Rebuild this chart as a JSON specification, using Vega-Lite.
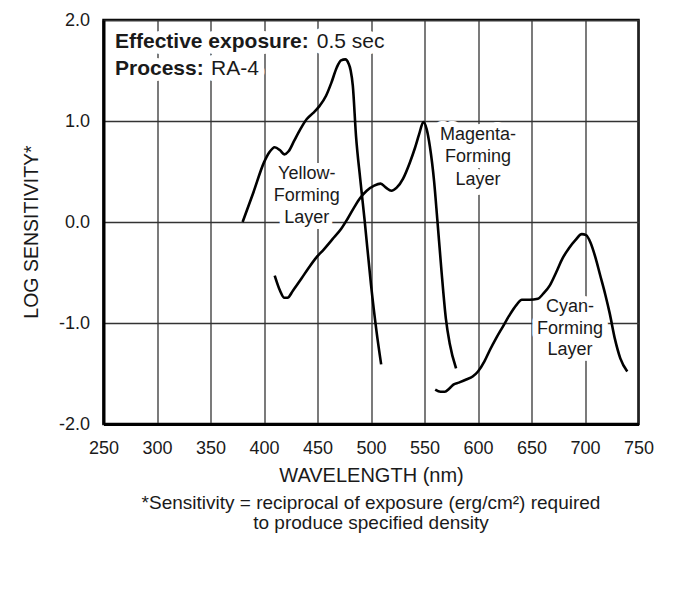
{
  "$schema": "https://vega.github.io/schema/vega-lite/v6.json",
  "width": 535,
  "height": 404,
  "autosize": {"type": "none"},
  "padding": {"left": 103.5, "top": 20, "right": 36.5, "bottom": 181},
  "background": "white",
  "config": {
    "font": "Liberation Sans",
    "view": {"stroke": "black", "strokeWidth": 2.5},
    "axis": {
      "grid": true,
      "gridColor": "#333333",
      "gridWidth": 1.3,
      "domainColor": "black",
      "domainWidth": 3,
      "ticks": false,
      "labelFontSize": 18,
      "labelColor": "#1a1a1a",
      "titleFontSize": 20,
      "titleFontWeight": "normal",
      "titleColor": "#1a1a1a"
    }
  },
  "title": {
    "text": ["*Sensitivity = reciprocal of exposure (erg/cm²) required", "to produce specified density"],
    "orient": "bottom",
    "anchor": "middle",
    "fontSize": 19,
    "fontWeight": "normal",
    "color": "#1a1a1a",
    "lineHeight": 19.5,
    "offset": 9
  },
  "datasets": {
    "curves": [
      {"layer": "Yellow", "nm": 380, "logS": 0.0},
      {"layer": "Yellow", "nm": 390, "logS": 0.29},
      {"layer": "Yellow", "nm": 400, "logS": 0.59},
      {"layer": "Yellow", "nm": 405, "logS": 0.69},
      {"layer": "Yellow", "nm": 410, "logS": 0.74},
      {"layer": "Yellow", "nm": 415, "logS": 0.71},
      {"layer": "Yellow", "nm": 419, "logS": 0.67},
      {"layer": "Yellow", "nm": 423, "logS": 0.7},
      {"layer": "Yellow", "nm": 428, "logS": 0.8},
      {"layer": "Yellow", "nm": 434, "logS": 0.92},
      {"layer": "Yellow", "nm": 440, "logS": 1.02},
      {"layer": "Yellow", "nm": 446, "logS": 1.08},
      {"layer": "Yellow", "nm": 452, "logS": 1.15},
      {"layer": "Yellow", "nm": 458, "logS": 1.25},
      {"layer": "Yellow", "nm": 463, "logS": 1.38},
      {"layer": "Yellow", "nm": 468, "logS": 1.53},
      {"layer": "Yellow", "nm": 472, "logS": 1.6},
      {"layer": "Yellow", "nm": 476, "logS": 1.61},
      {"layer": "Yellow", "nm": 479, "logS": 1.57},
      {"layer": "Yellow", "nm": 481, "logS": 1.5},
      {"layer": "Yellow", "nm": 483, "logS": 1.35},
      {"layer": "Yellow", "nm": 486, "logS": 0.85},
      {"layer": "Yellow", "nm": 490, "logS": 0.42},
      {"layer": "Yellow", "nm": 494, "logS": 0.02},
      {"layer": "Yellow", "nm": 500, "logS": -0.62},
      {"layer": "Yellow", "nm": 505, "logS": -1.07},
      {"layer": "Yellow", "nm": 509.5, "logS": -1.41},
      {"layer": "Magenta", "nm": 410, "logS": -0.53},
      {"layer": "Magenta", "nm": 415, "logS": -0.68},
      {"layer": "Magenta", "nm": 419, "logS": -0.75},
      {"layer": "Magenta", "nm": 422, "logS": -0.75},
      {"layer": "Magenta", "nm": 427, "logS": -0.68},
      {"layer": "Magenta", "nm": 435, "logS": -0.56},
      {"layer": "Magenta", "nm": 442, "logS": -0.45},
      {"layer": "Magenta", "nm": 449, "logS": -0.35},
      {"layer": "Magenta", "nm": 456, "logS": -0.27},
      {"layer": "Magenta", "nm": 464, "logS": -0.17},
      {"layer": "Magenta", "nm": 472, "logS": -0.07},
      {"layer": "Magenta", "nm": 478, "logS": 0.03},
      {"layer": "Magenta", "nm": 484, "logS": 0.14},
      {"layer": "Magenta", "nm": 490, "logS": 0.24},
      {"layer": "Magenta", "nm": 496, "logS": 0.31},
      {"layer": "Magenta", "nm": 503, "logS": 0.36},
      {"layer": "Magenta", "nm": 509, "logS": 0.38},
      {"layer": "Magenta", "nm": 514, "logS": 0.34},
      {"layer": "Magenta", "nm": 519, "logS": 0.31},
      {"layer": "Magenta", "nm": 524, "logS": 0.34},
      {"layer": "Magenta", "nm": 530, "logS": 0.43},
      {"layer": "Magenta", "nm": 536, "logS": 0.58},
      {"layer": "Magenta", "nm": 541, "logS": 0.73},
      {"layer": "Magenta", "nm": 545, "logS": 0.87},
      {"layer": "Magenta", "nm": 549, "logS": 0.99},
      {"layer": "Magenta", "nm": 552, "logS": 0.92},
      {"layer": "Magenta", "nm": 555, "logS": 0.75},
      {"layer": "Magenta", "nm": 559, "logS": 0.4},
      {"layer": "Magenta", "nm": 562, "logS": 0.02},
      {"layer": "Magenta", "nm": 566, "logS": -0.5},
      {"layer": "Magenta", "nm": 570, "logS": -0.96},
      {"layer": "Magenta", "nm": 573.5, "logS": -1.2},
      {"layer": "Magenta", "nm": 579.5, "logS": -1.45},
      {"layer": "Cyan", "nm": 560, "logS": -1.66},
      {"layer": "Cyan", "nm": 565, "logS": -1.68},
      {"layer": "Cyan", "nm": 569, "logS": -1.68},
      {"layer": "Cyan", "nm": 573, "logS": -1.65},
      {"layer": "Cyan", "nm": 577, "logS": -1.61},
      {"layer": "Cyan", "nm": 582, "logS": -1.59},
      {"layer": "Cyan", "nm": 589, "logS": -1.56},
      {"layer": "Cyan", "nm": 595, "logS": -1.53},
      {"layer": "Cyan", "nm": 600, "logS": -1.48},
      {"layer": "Cyan", "nm": 606, "logS": -1.38},
      {"layer": "Cyan", "nm": 611, "logS": -1.27},
      {"layer": "Cyan", "nm": 617, "logS": -1.15},
      {"layer": "Cyan", "nm": 623, "logS": -1.04},
      {"layer": "Cyan", "nm": 629, "logS": -0.93},
      {"layer": "Cyan", "nm": 636, "logS": -0.82},
      {"layer": "Cyan", "nm": 641, "logS": -0.77},
      {"layer": "Cyan", "nm": 648, "logS": -0.77},
      {"layer": "Cyan", "nm": 656, "logS": -0.76},
      {"layer": "Cyan", "nm": 661, "logS": -0.71},
      {"layer": "Cyan", "nm": 667, "logS": -0.63},
      {"layer": "Cyan", "nm": 673, "logS": -0.5},
      {"layer": "Cyan", "nm": 679, "logS": -0.36},
      {"layer": "Cyan", "nm": 685, "logS": -0.26},
      {"layer": "Cyan", "nm": 691, "logS": -0.18},
      {"layer": "Cyan", "nm": 697, "logS": -0.12},
      {"layer": "Cyan", "nm": 701, "logS": -0.13},
      {"layer": "Cyan", "nm": 705, "logS": -0.2},
      {"layer": "Cyan", "nm": 710, "logS": -0.36},
      {"layer": "Cyan", "nm": 714, "logS": -0.52},
      {"layer": "Cyan", "nm": 719, "logS": -0.72},
      {"layer": "Cyan", "nm": 723, "logS": -0.9},
      {"layer": "Cyan", "nm": 728, "logS": -1.16},
      {"layer": "Cyan", "nm": 733, "logS": -1.35},
      {"layer": "Cyan", "nm": 739.5, "logS": -1.48}
    ],
    "labels": [
      {"text": "Yellow-", "nm": 440, "logS": 0.48},
      {"text": "Forming", "nm": 440, "logS": 0.26},
      {"text": "Layer", "nm": 440, "logS": 0.04},
      {"text": "Magenta-", "nm": 600, "logS": 0.86},
      {"text": "Forming", "nm": 600, "logS": 0.64},
      {"text": "Layer", "nm": 600, "logS": 0.42},
      {"text": "Cyan-", "nm": 686, "logS": -0.84},
      {"text": "Forming", "nm": 686, "logS": -1.06},
      {"text": "Layer", "nm": 686, "logS": -1.27}
    ],
    "boldNotes": [
      {"text": "Effective exposure:", "nm": 260.75, "logS": 1.726},
      {"text": "Process:", "nm": 260.75, "logS": 1.455}
    ],
    "plainNotes": [
      {"text": "0.5 sec", "nm": 449.3, "logS": 1.726},
      {"text": "RA-4", "nm": 350.5, "logS": 1.455}
    ]
  },
  "encoding": {
    "x": {
      "field": "nm",
      "type": "quantitative",
      "scale": {"domain": [250, 750], "nice": false, "zero": false},
      "axis": {
        "values": [250, 300, 350, 400, 450, 500, 550, 600, 650, 700, 750],
        "labelFlush": false,
        "labelOverlap": false,
        "labelPadding": 15,
        "title": "WAVELENGTH (nm)",
        "titlePadding": 8
      }
    },
    "y": {
      "field": "logS",
      "type": "quantitative",
      "scale": {"domain": [-2, 2], "nice": false, "zero": false},
      "axis": {
        "values": [-2, -1, 0, 1, 2],
        "labelExpr": "replace(format(datum.value, '.1f'), '−', '-')",
        "labelFlush": false,
        "labelPadding": 14,
        "title": "LOG SENSITIVITY*",
        "titleFontSize": 19.5,
        "titleX": -66.5,
        "titleY": 211.5,
        "titleAlign": "center",
        "titleBaseline": "alphabetic",
        "titleAngle": -90
      }
    }
  },
  "layer": [
    {
      "data": {"name": "labels"},
      "mark": {"type": "text", "fontSize": 18, "baseline": "middle", "align": "center", "stroke": "white", "strokeWidth": 12, "strokeJoin": "round", "fill": "white"},
      "encoding": {"text": {"field": "text"}}
    },
    {
      "data": {"name": "boldNotes"},
      "mark": {"type": "text", "fontSize": 21, "fontWeight": "bold", "baseline": "alphabetic", "align": "left", "stroke": "white", "strokeWidth": 12, "strokeJoin": "round", "fill": "white"},
      "encoding": {"text": {"field": "text"}}
    },
    {
      "data": {"name": "plainNotes"},
      "mark": {"type": "text", "fontSize": 21, "baseline": "alphabetic", "align": "left", "stroke": "white", "strokeWidth": 12, "strokeJoin": "round", "fill": "white"},
      "encoding": {"text": {"field": "text"}}
    },
    {
      "data": {"name": "curves"},
      "mark": {"type": "line", "color": "black", "strokeWidth": 2.6, "interpolate": "monotone"},
      "encoding": {"detail": {"field": "layer"}}
    },
    {
      "data": {"name": "labels"},
      "mark": {"type": "text", "fontSize": 18, "baseline": "middle", "align": "center", "color": "#1a1a1a"},
      "encoding": {"text": {"field": "text"}}
    },
    {
      "data": {"name": "boldNotes"},
      "mark": {"type": "text", "fontSize": 21, "fontWeight": "bold", "baseline": "alphabetic", "align": "left", "color": "#1a1a1a"},
      "encoding": {"text": {"field": "text"}}
    },
    {
      "data": {"name": "plainNotes"},
      "mark": {"type": "text", "fontSize": 21, "baseline": "alphabetic", "align": "left", "color": "#1a1a1a"},
      "encoding": {"text": {"field": "text"}}
    }
  ]
}
